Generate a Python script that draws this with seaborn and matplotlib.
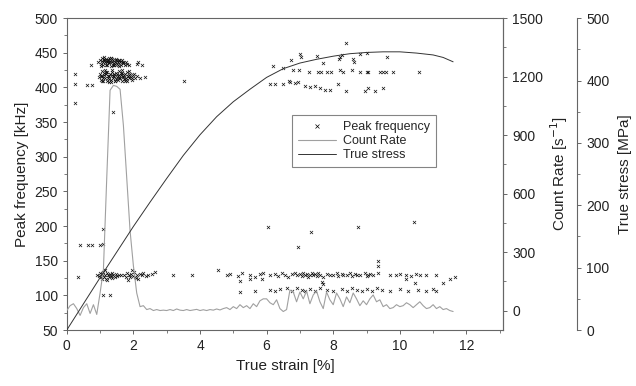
import numpy as np
import pandas as pd
import matplotlib
matplotlib.use("Agg")
import matplotlib.pyplot as plt
import seaborn as sns
from matplotlib.ticker import MultipleLocator
from matplotlib.lines import Line2D

# ---------------- data ----------------
# Peak frequency scatter, groups of (strain %, frequency kHz)
cluster_hi = [(0.72, 432), (0.95, 437), (1.0, 440), (1.02, 434), (1.05, 438), (1.07, 442), (1.1, 433),
              (1.12, 439), (1.14, 436), (1.17, 441), (1.2, 432), (1.22, 437), (1.24, 440), (1.27, 435),
              (1.3, 438), (1.32, 431), (1.34, 442), (1.37, 436), (1.4, 439), (1.42, 433), (1.44, 437),
              (1.47, 441), (1.5, 434), (1.52, 438), (1.54, 432), (1.57, 440), (1.6, 436), (1.62, 433),
              (1.65, 439), (1.68, 435), (1.7, 437), (1.74, 432), (1.78, 436), (1.82, 434), (1.88, 433),
              (2.1, 434), (2.15, 436), (2.25, 433), (1.03, 431), (1.08, 436), (1.13, 441), (1.18, 433),
              (1.23, 439), (1.28, 436), (1.33, 442), (1.38, 433), (1.43, 435), (1.48, 440), (1.53, 437),
              (1.58, 431), (1.63, 438), (1.69, 435), (1.11, 444), (1.26, 443), (1.41, 432), (1.56, 439),
              (1.36, 441), (1.21, 438)]
cluster_lo = [(0.98, 415), (1.0, 420), (1.03, 411), (1.05, 424), (1.07, 417), (1.1, 409), (1.12, 421),
              (1.15, 414), (1.17, 419), (1.2, 410), (1.22, 423), (1.25, 416), (1.27, 412), (1.3, 420),
              (1.32, 408), (1.35, 418), (1.37, 422), (1.4, 413), (1.42, 417), (1.45, 410), (1.47, 421),
              (1.5, 415), (1.52, 419), (1.55, 411), (1.57, 424), (1.6, 414), (1.62, 418), (1.65, 409),
              (1.67, 421), (1.7, 416), (1.72, 412), (1.75, 419), (1.77, 414), (1.8, 422), (1.82, 410),
              (1.85, 417), (1.87, 413), (1.9, 420), (1.93, 415), (1.96, 411), (2.0, 418), (2.05, 414),
              (2.1, 416), (2.2, 413), (2.35, 415), (1.02, 416), (1.08, 413), (1.13, 418), (1.18, 422),
              (1.23, 414), (1.28, 417), (1.33, 411), (1.38, 416), (1.43, 420), (1.48, 412), (1.53, 417),
              (1.58, 413), (1.63, 421), (1.68, 415), (1.73, 418), (1.78, 411), (1.83, 416), (1.88, 418),
              (1.95, 413), (2.02, 420), (1.06, 409), (1.16, 425), (1.26, 408), (1.36, 425), (1.46, 409),
              (1.56, 418), (1.66, 425), (1.76, 409), (1.86, 424)]
band130_left = [(0.35, 126), (0.92, 130), (0.96, 128), (1.0, 132), (1.03, 126), (1.06, 131), (1.09, 134),
                (1.12, 127), (1.15, 130), (1.18, 124), (1.21, 133), (1.24, 129), (1.27, 126), (1.3, 131),
                (1.33, 128), (1.36, 133), (1.4, 129), (1.44, 126), (1.48, 131), (1.52, 128), (1.56, 130),
                (1.62, 129), (1.72, 130), (1.78, 127), (1.82, 133), (1.86, 129), (1.9, 126), (1.94, 131),
                (1.98, 128), (2.02, 134), (2.06, 127), (2.1, 130), (2.15, 124), (2.2, 131), (2.25, 129),
                (2.3, 133), (2.38, 128), (2.45, 130), (2.55, 131), (2.65, 134), (1.05, 123), (1.14, 136),
                (1.22, 122), (1.35, 125), (1.84, 122), (1.96, 136), (2.08, 125)]
band130_right = [(3.2, 130), (3.75, 130), (4.55, 136), (4.8, 129), (4.9, 131), (5.15, 128), (5.25, 132),
                 (5.5, 130), (5.65, 127), (5.8, 131), (5.9, 133), (6.1, 129), (6.25, 131), (6.35, 128),
                 (6.45, 132), (6.55, 130), (6.65, 127), (6.75, 131), (6.85, 133), (6.9, 129), (7.0, 131),
                 (7.05, 128), (7.1, 132), (7.15, 129), (7.2, 131), (7.25, 127), (7.3, 130), (7.35, 133),
                 (7.4, 129), (7.45, 131), (7.5, 128), (7.55, 132), (7.6, 130), (7.7, 127), (7.8, 131),
                 (7.9, 129), (8.0, 130), (8.1, 132), (8.15, 128), (8.25, 131), (8.3, 129), (8.4, 130),
                 (8.5, 133), (8.55, 128), (8.65, 131), (8.7, 129), (8.8, 130), (8.95, 132), (9.0, 128),
                 (9.05, 130), (9.1, 131), (9.2, 129), (9.35, 132), (9.7, 130), (9.9, 129), (10.0, 131),
                 (10.2, 130), (10.35, 128), (10.5, 131), (10.6, 130), (10.8, 129), (11.1, 130),
                 (11.5, 124), (11.65, 126), (5.2, 121), (5.5, 124), (5.85, 124), (7.65, 120), (7.7, 117),
                 (9.35, 150), (9.35, 142), (10.2, 124), (10.45, 118), (11.3, 118)]
band108 = [(5.2, 105), (5.65, 107), (6.1, 108), (6.25, 106), (6.4, 109), (6.6, 110), (6.75, 107),
           (6.9, 111), (7.05, 108), (7.15, 106), (7.3, 109), (7.45, 107), (7.6, 110), (7.8, 108),
           (8.0, 106), (8.25, 109), (8.4, 107), (8.55, 110), (8.7, 108), (8.85, 106), (9.0, 109),
           (9.15, 107), (9.3, 110), (9.45, 108), (9.7, 107), (10.0, 109), (10.25, 106), (10.55, 108),
           (10.8, 107), (11.0, 109), (11.1, 106)]
upper_right = [(6.2, 431), (6.5, 428), (6.74, 439), (7.0, 448), (7.04, 444), (7.52, 445), (8.39, 464),
               (8.21, 444), (8.18, 441), (8.6, 441), (8.63, 436), (7.7, 435), (9.62, 444), (9.02, 449),
               (8.27, 447), (8.81, 448), (6.8, 425), (6.97, 425), (7.28, 423), (7.55, 423), (7.64, 422),
               (7.82, 423), (7.94, 423), (8.21, 425), (8.3, 423), (8.57, 425), (8.81, 422), (9.02, 422),
               (9.05, 422), (9.41, 422), (9.5, 422), (9.59, 422), (9.8, 422), (10.58, 422),
               (6.1, 405), (6.26, 405), (6.5, 405), (6.68, 409), (6.71, 408), (6.86, 406), (6.94, 408),
               (7.16, 402), (7.31, 400), (7.46, 402), (7.61, 399), (7.76, 396), (7.91, 396), (8.15, 405),
               (8.39, 395), (8.96, 395), (9.05, 399), (9.26, 395), (9.5, 399)]
isolated = [(0.25, 420), (0.25, 405), (0.6, 404), (0.75, 403), (0.25, 378), (0.4, 172), (0.65, 172),
            (0.76, 172), (1.0, 172), (1.1, 174), (1.1, 196), (1.1, 100), (1.3, 100), (1.38, 365),
            (3.53, 409), (6.05, 199), (7.34, 191), (8.75, 198), (10.43, 206), (6.95, 170)]

# Count rate (s^-1) sampled every 0.1 % strain from 0 to 11.6
cr_strain = [round(0.1 * i, 1) for i in range(117)]
count_rate = [0, 25, 35, 10, -25, 15, 35, -15, 30, -20,
              90, 210, 680, 1130, 1155, 1150, 1135, 950, 680, 410,
              230, 90, 20, 25, 5, 10, 0, 5, 0, 2,
              0, 5, 0, 8, 2, 0, 5, 0, 3, 6,
              0, 4, 0, 5, 2, 8, 3, 10, 15, 5,
              20, 10, 30, 15, 25, 10, 35, 20, 50, 60,
              60, 40, 30, 55, 10, -5, 5, 105, 95, 45,
              95, 60, 100, 35, 80, 100, 45, 10, 95, 55,
              30, 90, 60, 20, 70, 40, 90, 60, 25, 50,
              30, 60, 80, 45, 55, 20, 30, 10, 15, 30,
              20, 25, 40, 30, 15, 30, 45, 25, 10, 15,
              30, 10, 20, 5, 10, 0, -5]

# True stress (MPa)
stress_strain = [0, 0.5, 1, 1.5, 2, 2.5, 3, 3.5, 4, 4.5, 5, 5.5, 6, 6.5, 7, 7.5, 8, 8.5, 9, 9.5,
                 10, 10.5, 11, 11.3, 11.6]
true_stress = [0, 42, 84, 125, 166, 205, 243, 280, 313, 342, 366, 386, 405, 419, 428, 434, 439, 443,
               445, 446, 446, 444, 441, 437, 430]

# ---------------- plot ----------------
sns.set_theme(style="ticks")
plt.rcParams['font.family'] = ['Liberation Sans', 'DejaVu Sans']

pts = cluster_hi + cluster_lo + band130_left + band130_right + band108 + upper_right + isolated
df_pts = pd.DataFrame(pts, columns=["strain", "freq"])
df_cr = pd.DataFrame({"strain": cr_strain, "rate": count_rate})
df_st = pd.DataFrame({"strain": stress_strain, "stress": true_stress})

fig = plt.figure(figsize=(6.36, 3.86), dpi=100)
ax1 = fig.add_axes([0.105, 0.145, 0.686, 0.808])
ax2 = ax1.twinx()
ax3 = ax1.twinx()
ax3.spines['right'].set_position(('axes', 1.17))

sns.scatterplot(data=df_pts, x="strain", y="freq", ax=ax1, marker="x", s=5,
                color="#111111", linewidth=0.5, legend=False)
sns.lineplot(data=df_cr, x="strain", y="rate", ax=ax2, color="#a0a0a0", lw=0.8)
sns.lineplot(data=df_st, x="strain", y="stress", ax=ax3, color="#333333", lw=0.7)

spine_col = "#666666"
for ax in (ax1, ax2, ax3):
    for sp in ax.spines.values():
        sp.set_color(spine_col)
        sp.set_linewidth(0.8)
    ax.tick_params(which='both', direction='out', colors=spine_col, labelcolor='#222222',
                   labelsize=10)
    ax.tick_params(which='major', length=3, width=0.7)
    ax.tick_params(which='minor', length=2, width=0.6)

ax1.set_xlim(0, 13.1)
ax1.set_ylim(50, 500)
ax1.xaxis.set_major_locator(MultipleLocator(2))
ax1.xaxis.set_minor_locator(MultipleLocator(1))
ax1.yaxis.set_major_locator(MultipleLocator(50))
ax1.yaxis.set_minor_locator(MultipleLocator(25))

ax2.set_ylim(-100, 1500)
ax2.set_yticks([0, 300, 600, 900, 1200, 1500])
ax2.yaxis.set_minor_locator(MultipleLocator(150))

ax3.set_ylim(0, 500)
ax3.yaxis.set_major_locator(MultipleLocator(100))
ax3.yaxis.set_minor_locator(MultipleLocator(50))
for s in ('left', 'top', 'bottom'):
    ax3.spines[s].set_visible(False)
    ax2.spines[s].set_visible(False)

ax1.set_xlabel("True strain [%]", fontsize=11, color='#222222', labelpad=4)
ax1.set_ylabel("Peak frequency [kHz]", fontsize=11, color='#222222', labelpad=4)
ax2.set_ylabel("Count Rate [s$^{-1}$]", fontsize=11, color='#222222', labelpad=4)
ax3.set_ylabel("True stress [MPa]", fontsize=11, color='#222222', labelpad=6)

handles = [Line2D([], [], ls='', marker='x', ms=2.2, mew=0.5, color='black'),
           Line2D([], [], color='#a0a0a0', lw=0.8),
           Line2D([], [], color='#333333', lw=0.7)]
leg = ax3.legend(handles, ["Peak frequency", "Count Rate", "True stress"],
                 loc='upper left', bbox_to_anchor=(0.516, 0.689), bbox_transform=ax1.transAxes,
                 fontsize=9, frameon=True, fancybox=False, handlelength=3.0,
                 borderpad=0.5, labelspacing=0.15, handletextpad=0.6, borderaxespad=0)
leg.get_frame().set_edgecolor('#666666')
leg.get_frame().set_linewidth(0.8)
leg.get_frame().set_facecolor('white')

fig.savefig("out.png", dpi=100)
